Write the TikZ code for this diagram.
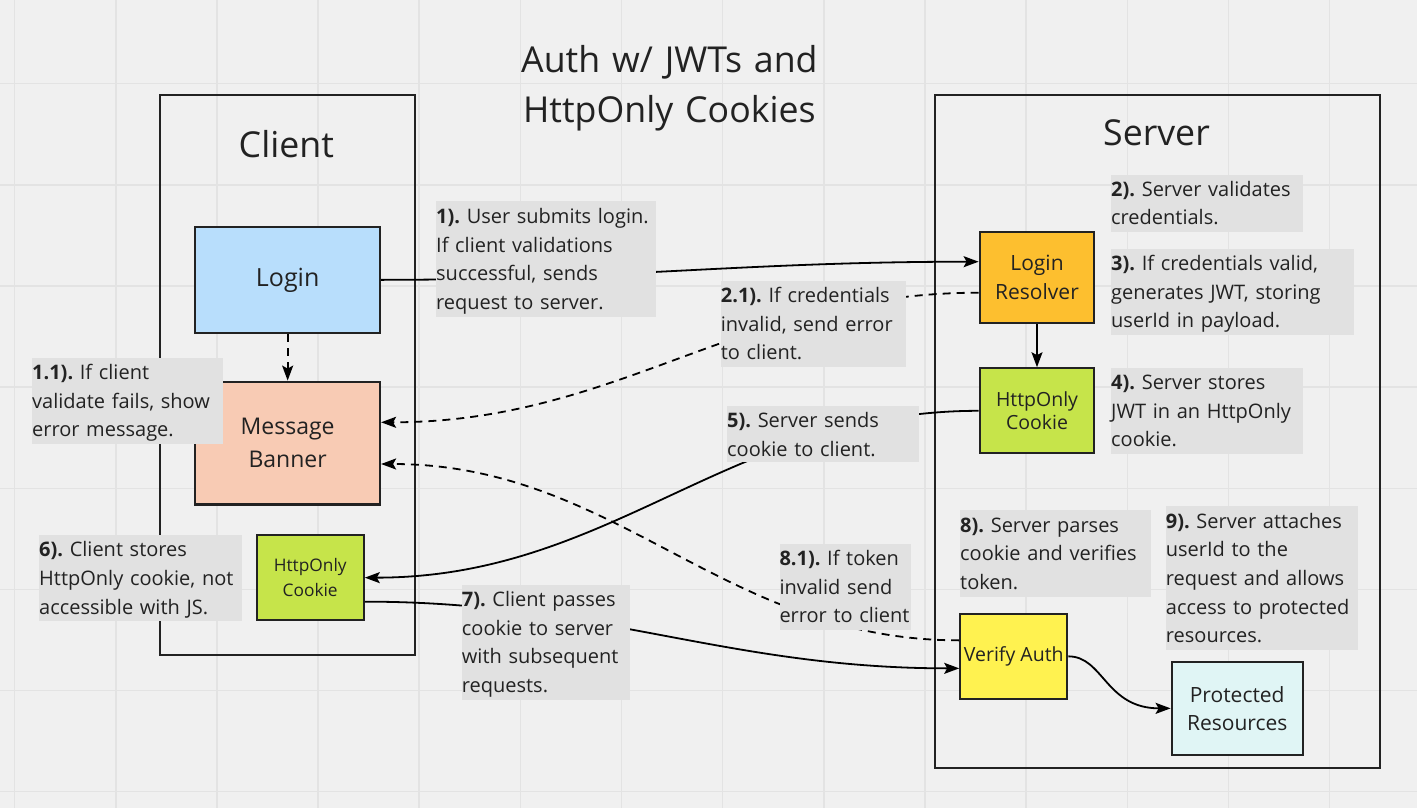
\documentclass[tikz,border=0pt]{standalone}
\usepackage{fontspec}
\setmainfont{Open Sans}
\usetikzlibrary{arrows.meta}
\frenchspacing
\definecolor{bgc}{HTML}{F0F0F0}
\definecolor{gridc}{HTML}{E3E3E3}
\definecolor{notec}{HTML}{E1E1E1}
\definecolor{linec}{HTML}{222222}
\definecolor{textc}{HTML}{222222}
\definecolor{loginc}{HTML}{B8DEFC}
\definecolor{bannerc}{HTML}{F8CBB4}
\definecolor{cookiec}{HTML}{C6E44A}
\definecolor{resolverc}{HTML}{FDBF2F}
\definecolor{verifyc}{HTML}{FFF250}
\definecolor{protc}{HTML}{E0F5F5}
\tikzset{
  box/.style={draw=linec, line width=2.2pt, inner sep=0pt, align=center, text=textc},
  frame/.style={draw=linec, line width=2pt, inner sep=0pt},
  conn/.style={line width=1.8pt, draw=black, -{Stealth[length=15pt,width=11pt,inset=3pt]}},
  dashconn/.style={conn, dash pattern=on 8pt off 6pt},
  notebox/.style={fill=notec, inner sep=0pt, anchor=north west},
  notetext/.style={anchor=base west, inner sep=0pt, align=left, text width=280pt,
    font=\fontsize{20}{28.7}\selectfont\frenchspacing, text=textc},
  bigtext/.style={inner sep=0pt, anchor=base, text=textc, font=\fontsize{35.7}{50}\selectfont},
}
\begin{document}
\begin{tikzpicture}[x=1pt,y=-1pt]
\useasboundingbox (0,0) rectangle (1417,808);
\fill[bgc] (0,0) rectangle (1417,808);
\foreach \i in {0,...,13} {
  \draw[gridc, line width=1.5pt] ({14.6+101.15*\i},0) -- ({14.6+101.15*\i},808);
}
\foreach \j in {-1,...,7} {
  \draw[gridc, line width=1.5pt] (0,{83.7+101.14*\j}) -- (1417,{83.7+101.14*\j});
}

% frames
\node[frame, minimum width=255.5pt, minimum height=560.3pt] (cframe) at (287.25,374.85) {};
\node[frame, minimum width=445pt, minimum height=673.3pt] (sframe) at (1157.5,431.65) {};

% titles
\node[bigtext, text width=420pt, align=center] (title) at (669.4,72.7) {Auth w/ JWTs and\\HttpOnly Cookies};
\node[bigtext] (clientlbl) at (286.3,157.7) {Client};
\node[bigtext] (serverlbl) at (1156.5,145) {Server};

% main boxes
\node[box, fill=loginc, minimum width=184.7pt, minimum height=106.3pt,
  font=\fontsize{25}{32}\selectfont] (login) at (287.65,279.85) {Login};
\node[box, fill=bannerc, minimum width=184.7pt, minimum height=122.8pt,
  font=\fontsize{23}{33.3}\selectfont] (banner) at (287.65,443.1) {Message\\Banner};
\node[box, fill=cookiec, minimum width=107pt, minimum height=84.7pt,
  font=\fontsize{17.3}{24.3}\selectfont] (ccookie) at (310.2,577.65) {HttpOnly\\Cookie};
\node[box, fill=resolverc, minimum width=114.6pt, minimum height=91.6pt,
  font=\fontsize{21}{28.3}\selectfont] (resolver) at (1037,277.5) {Login\\Resolver};
\node[box, fill=cookiec, minimum width=114.6pt, minimum height=85pt,
  font=\fontsize{19.5}{23.7}\selectfont] (scookie) at (1037,410.8) {HttpOnly\\Cookie};
\node[box, fill=verifyc, minimum width=107pt, minimum height=85.3pt,
  font=\fontsize{19.5}{24}\selectfont] (verify) at (1013.8,656.35) {Verify Auth};
\node[box, fill=protc, minimum width=131pt, minimum height=93.3pt,
  font=\fontsize{21}{28.3}\selectfont] (protected) at (1237.2,708.35) {Protected\\Resources};

% connectors
\draw[conn] (login.east) to[out=0,in=180] ([yshift=15.8pt]resolver.west);
\draw[dashconn] (login.south) -- (banner.north);
\draw[dashconn] ([yshift=-15.2pt]resolver.west) to[out=180,in=0] ([yshift=20.8pt]banner.east);
\draw[conn] (resolver.south) -- (scookie.north);
\draw[conn] (scookie.west) to[out=180,in=0] (ccookie.east);
\draw[conn] ([yshift=-24pt]ccookie.east) to[out=0,in=180] ([yshift=-12pt]verify.west);
\draw[dashconn] ([yshift=16pt]verify.west) to[out=180,in=0] ([yshift=-20.9pt]banner.east);
\draw[conn] (verify.east) .. controls +(35,0) and +(-65,0) .. (protected.west);

% notes
\node[notebox, minimum width=220pt, minimum height=115.7pt] (n1) at (436,201) {};
\node[notetext] (n1t) at ([yshift=-22.3pt]n1.north west) {\textbf{1).} User submits login.\\If client validations\\successful, sends\\request to server.};

\node[notebox, minimum width=191pt, minimum height=85.7pt] (n11) at (32,358) {};
\node[notetext] (n11t) at ([yshift=-21.5pt]n11.north west) {\textbf{1.1).} If client\\validate fails, show\\error message.};

\node[notebox, minimum width=203pt, minimum height=86pt] (n6) at (39,534.7) {};
\node[notetext] (n6t) at ([yshift=-22pt]n6.north west) {\textbf{6).} Client stores\\HttpOnly cookie, not\\accessible with JS.};

\node[notebox, minimum width=185.3pt, minimum height=86.4pt] (n21) at (720.7,280.3) {};
\node[notetext] (n21t) at ([yshift=-22pt]n21.north west) {\textbf{2.1).} If credentials\\invalid, send error\\to client.};

\node[notebox, minimum width=191.3pt, minimum height=56.3pt] (n5) at (727,405.7) {};
\node[notetext] (n5t) at ([yshift=-22pt]n5.north west) {\textbf{5).} Server sends\\cookie to client.};

\node[notebox, minimum width=168.3pt, minimum height=115pt] (n7) at (461.7,584.3) {};
\node[notetext] (n7t) at ([yshift=-22pt]n7.north west) {\textbf{7).} Client passes\\cookie to server\\with subsequent\\requests.};

\node[notebox, minimum width=131.7pt, minimum height=86pt] (n81) at (779.3,543.3) {};
\node[notetext] (n81t) at ([yshift=-22pt]n81.north west) {\textbf{8.1).} If token\\invalid send\\error to client};

\node[notebox, minimum width=192pt, minimum height=57.4pt] (n2) at (1111,174.3) {};
\node[notetext] (n2t) at ([yshift=-21.7pt]n2.north west) {\textbf{2).} Server validates\\credentials.};

\node[notebox, minimum width=243pt, minimum height=86.4pt] (n3) at (1111,248.3) {};
\node[notetext] (n3t) at ([yshift=-22pt]n3.north west) {\textbf{3).} If credentials valid,\\generates JWT, storing\\userId in payload.};

\node[notebox, minimum width=192pt, minimum height=86.7pt] (n4) at (1111,367.3) {};
\node[notetext] (n4t) at ([yshift=-22pt]n4.north west) {\textbf{4).} Server stores\\JWT in an HttpOnly\\cookie.};

\node[notebox, minimum width=191pt, minimum height=86.7pt] (n8) at (960,510) {};
\node[notetext] (n8t) at ([yshift=-22pt]n8.north west) {\textbf{8).} Server parses\\cookie and verifies\\token.};

\node[notebox, minimum width=192pt, minimum height=143.3pt] (n9) at (1165.7,506) {};
\node[notetext] (n9t) at ([yshift=-22pt]n9.north west) {\textbf{9).} Server attaches\\userId to the\\request and allows\\access to protected\\resources.};
\end{tikzpicture}
\end{document}
